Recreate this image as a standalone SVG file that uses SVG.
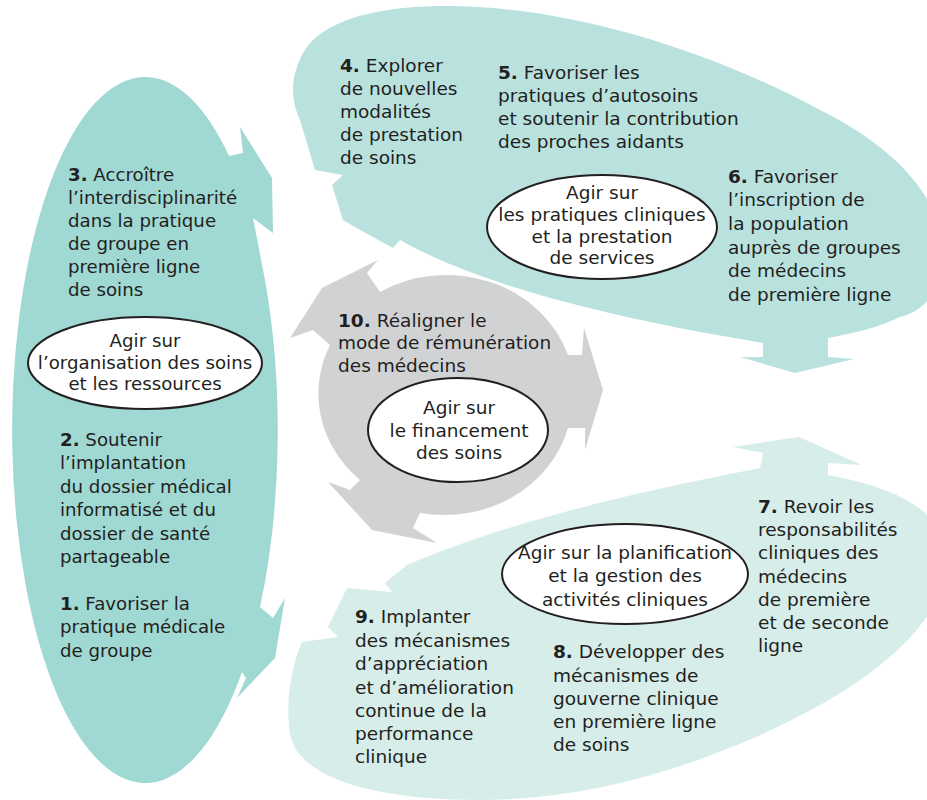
<svg xmlns="http://www.w3.org/2000/svg" width="927" height="800" viewBox="0 0 927 800">
<style>
text{font-family:"DejaVu Sans","Liberation Sans",sans-serif;font-size:18.5px;fill:#231F20}
.l{font-size:18.2px}
.c{text-anchor:middle}
.b{font-weight:bold}
.el{fill:#fff;stroke:#231F20;stroke-width:2}
</style>
<rect width="927" height="800" fill="#fff"/>
<g id="connectors"></g>
<g id="node-organisation">
<path fill="#A0D8D3" d="M229,156 A133,353 0 1 0 242,672 L246,678 L237,698 L275,658 L285,598 L273,618 L260,607 A133,353 0 0 0 265,280 L253,218 L273,233 L272,178 L240,127 L243,153 Z"/>
<text class="l" x="68" y="181"><tspan class="b">3.</tspan> Accroître</text>
<text class="l" x="68" y="204">l’interdisciplinarité</text>
<text class="l" x="68" y="227">dans la pratique</text>
<text class="l" x="68" y="250">de groupe en</text>
<text class="l" x="68" y="273">première ligne</text>
<text class="l" x="68" y="296">de soins</text>
<ellipse class="el" cx="145" cy="363" rx="117" ry="46"/>
<text class="l c" x="145" y="347">Agir sur</text>
<text class="l c" x="145" y="369">l’organisation des soins</text>
<text class="l c" x="145" y="390">et les ressources</text>
<text class="l" x="60" y="446"><tspan class="b">2.</tspan> Soutenir</text>
<text class="l" x="60" y="469">l’implantation</text>
<text class="l" x="60" y="493">du dossier médical</text>
<text class="l" x="60" y="516">informatisé et du</text>
<text class="l" x="60" y="540">dossier de santé</text>
<text class="l" x="60" y="563">partageable</text>
<text class="l" x="60" y="610"><tspan class="b">1.</tspan> Favoriser la</text>
<text class="l" x="60" y="633">pratique médicale</text>
<text class="l" x="60" y="657">de groupe</text>
</g>
<g id="node-pratiques">
<path fill="#B9E2DF" d="M313,40 C340,15 390,6 447,6 C560,6 700,45 820,110 C880,140 927,180 940,230 C950,280 930,310 900,317 C880,327 855,333 828,338 L828,357 L854,359 L795,373 L740,357 L763,357 L763,343 L700,332 C600,313 480,285 400,240 L393,248 L360,230 L343,220 L332,185 L343,175 L315,170 L300,120 C293,105 290,85 297,67 C301,55 306,47 313,40 Z"/>
<text x="340" y="72"><tspan class="b">4.</tspan> Explorer</text>
<text x="340" y="95">de nouvelles</text>
<text x="340" y="118">modalités</text>
<text x="340" y="141">de prestation</text>
<text x="340" y="164">de soins</text>
<text x="498" y="79"><tspan class="b">5.</tspan> Favoriser les</text>
<text x="498" y="102">pratiques d’autosoins</text>
<text x="498" y="125">et soutenir la contribution</text>
<text x="498" y="148">des proches aidants</text>
<text x="728" y="183"><tspan class="b">6.</tspan> Favoriser</text>
<text x="728" y="206">l’inscription de</text>
<text x="728" y="230">la population</text>
<text x="728" y="254">auprès de groupes</text>
<text x="728" y="277">de médecins</text>
<text x="728" y="301">de première ligne</text>
<ellipse class="el" cx="602" cy="227" rx="115" ry="52"/>
<text class="c" x="602" y="199">Agir sur</text>
<text class="c" x="602" y="221">les pratiques cliniques</text>
<text class="c" x="602" y="243">et la prestation</text>
<text class="c" x="602" y="264">de services</text>
</g>
<g id="node-planification">
<path fill="#D6EDEA" d="M302,642 L338,637 L328,627 L347,588 L392,592 L385,583 L407,565 C500,525 620,495 760,468 L763,453 L733,447 L799,437 L862,465 L828,463 L828,475 C880,485 927,500 945,540 C960,600 900,660 820,705 C720,760 600,800 480,800 C380,800 300,780 290,735 C285,700 292,665 302,642 Z"/>
<ellipse class="el" cx="625" cy="574" rx="123" ry="50"/>
<text class="c" x="625" y="559">Agir sur la planification</text>
<text class="c" x="625" y="582">et la gestion des</text>
<text class="c" x="625" y="606">activités cliniques</text>
<text x="758" y="513"><tspan class="b">7.</tspan> Revoir les</text>
<text x="758" y="536">responsabilités</text>
<text x="758" y="559">cliniques des</text>
<text x="758" y="583">médecins</text>
<text x="758" y="606">de première</text>
<text x="758" y="629">et de seconde</text>
<text x="758" y="652">ligne</text>
<text x="355" y="623"><tspan class="b">9.</tspan> Implanter</text>
<text x="355" y="647">des mécanismes</text>
<text x="355" y="670">d’appréciation</text>
<text x="355" y="694">et d’amélioration</text>
<text x="355" y="717">continue de la</text>
<text x="355" y="740">performance</text>
<text x="355" y="763">clinique</text>
<text x="553" y="658"><tspan class="b">8.</tspan> Développer des</text>
<text x="553" y="682">mécanismes de</text>
<text x="553" y="705">gouverne clinique</text>
<text x="553" y="728">en première ligne</text>
<text x="553" y="751">de soins</text>
</g>
<g id="node-financement">
<path fill="#D1D2D4" d="M380,292 A128,117 0 0 1 568,355 L582,355 L584,328 L603,390 L585,450 L585,428 L568,428 A128,117 0 0 1 420,513 L413,528 L437,543 L372,530 L328,482 L350,490 L360,480 A128,117 0 0 1 330,345 L313,330 L290,338 L322,288 L378,260 L367,273 Z"/>
<text x="338" y="327"><tspan class="b">10.</tspan> Réaligner le</text>
<text x="338" y="349">mode de rémunération</text>
<text x="338" y="372">des médecins</text>
<ellipse class="el" cx="458" cy="430" rx="90" ry="52"/>
<text class="c" x="459" y="414">Agir sur</text>
<text class="c" x="459" y="437">le financement</text>
<text class="c" x="459" y="459">des soins</text>
</g>
</svg>
